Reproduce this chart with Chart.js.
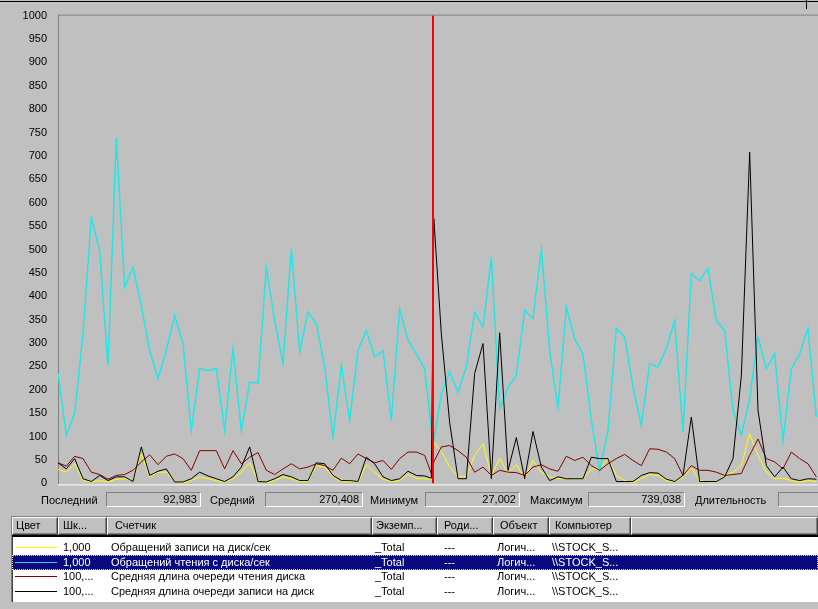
<!DOCTYPE html>
<html>
<head>
  <meta charset="utf-8">
  <title>Системный монитор</title>
  <script src="https://cdn.jsdelivr.net/npm/chart.js@4.4.0/dist/chart.umd.min.js"></script>
  <style>
    body { margin: 0; width: 818px; height: 609px; overflow: hidden; position: relative;
           background: #c0c0c0; color: #000; font-family: "Liberation Sans", Arial, sans-serif; font-size: 11px; }
    #perfChart { position: absolute; left: 0; top: -2px; }
    #topline { position: absolute; left: 0; top: 1px; width: 818px; height: 1px; background: #000; }
    #tick { position: absolute; left: 806px; top: 0; width: 1px; height: 9px; background: #000; }
    .lbl { position: absolute; top: 493px; line-height: 14px; white-space: nowrap; }
    .box { position: absolute; top: 492px; height: 15px; box-sizing: border-box; line-height: 13px; background: #c0c0c0;
           border-top: 1px solid #808080; border-left: 1px solid #808080;
           border-bottom: 1px solid #fff; border-right: 1px solid #fff; text-align: right; padding-right: 3px; }
    #list { position: absolute; left: 11px; top: 516px; width: 807px; height: 86px; background: #fff;
            border-left: 1px solid #808080; border-top: 1px solid #808080; box-sizing: border-box; }
    #list:before { content: ""; position: absolute; left: 0; top: 0; width: 1px; height: 100%; background: #404040; }
    .hd { position: absolute; top: 517px; height: 18px; box-sizing: border-box; background: #c0c0c0; line-height: 15px;
          border-top: 1px solid #fff; border-left: 1px solid #fff; border-right: 1px solid #404040; border-bottom: 1px solid #404040;
          box-shadow: inset -1px -1px #808080; white-space: nowrap; overflow: hidden; }
    #hdline { position: absolute; left: 12px; top: 535px; width: 806px; height: 2px; background: #000; }
    .row { position: absolute; left: 12px; width: 806px; height: 15px; }
    .sel { background: #0a0a80; color: #fff; outline: 1px dotted #e8e880; outline-offset: -1px; }
    .cell { position: absolute; top: 0; line-height: 15px; white-space: nowrap; }
    .sw { position: absolute; left: 3px; top: 7px; width: 42px; height: 1px; }
  </style>
</head>
<body>
  <canvas id="perfChart" width="818" height="503"></canvas>
  <div id="topline"></div>
  <div id="tick"></div>

  <div class="lbl" style="left:41px">Последний</div>
  <div class="box" style="left:106px; width:95px">92,983</div>
  <div class="lbl" style="left:210px">Средний</div>
  <div class="box" style="left:265px; width:98px">270,408</div>
  <div class="lbl" style="left:370px">Минимум</div>
  <div class="box" style="left:425px; width:95px">27,002</div>
  <div class="lbl" style="left:530px">Максимум</div>
  <div class="box" style="left:588px; width:97px">739,038</div>
  <div class="lbl" style="left:695px">Длительность</div>
  <div class="box" style="left:778px; width:45px"></div>

  <div id="list"></div>
  <div class="hd" style="left:12px; width:46px; padding-left:3px">Цвет</div>
  <div class="hd" style="left:58px; width:49px; padding-left:4px">Шк...</div>
  <div class="hd" style="left:107px; width:265px; padding-left:7px">Счетчик</div>
  <div class="hd" style="left:372px; width:65px; padding-left:3px">Экземп...</div>
  <div class="hd" style="left:437px; width:56px; padding-left:6px">Роди...</div>
  <div class="hd" style="left:493px; width:56px; padding-left:6px">Объект</div>
  <div class="hd" style="left:549px; width:82px; padding-left:5px">Компьютер</div>
  <div class="hd" style="left:631px; width:187px"></div>
  <div id="hdline"></div>
  <div id="rows"></div>

  <script>
    // sample positions (the red bar sits between 44.8 and 45.1)
    const sampleT = [0, 1, 2, 3, 4, 5, 6, 7, 8, 9, 10, 11, 12, 13, 14, 15, 16, 17, 18, 19,
      20, 21, 22, 23, 24, 25, 26, 27, 28, 29, 30, 31, 32, 33, 34, 35, 36, 37, 38, 39,
      40, 41, 42, 43, 44, 44.8, 45.1, 46, 47, 48, 49, 50, 51, 52, 53, 54, 55, 56, 57, 58, 59,
      60, 61, 62, 63, 64, 65, 66, 67, 68, 69, 70, 71, 72, 73, 74, 75, 76, 77, 78, 79,
      80, 81, 82, 83, 84, 85, 86, 87, 88, 89, 90, 91];
    const markerT = 45;

    // Обращений записи на диск/сек (yellow)
    const writeOps = [30, 24, 42, 6, 3, 6, 3, 9, 10, 6, 63, 14, 24, 24, 3, 1, 6, 14, 10, 6,
      3, 10, 24, 44, 6, 1, 6, 14, 10, 4, 4, 38, 35, 14, 4, 4, 3, 40, 24, 9,
      4, 6, 19, 11, 10, 9, 88, 68, 36, 14, 14, 60, 85, 17, 53, 21, 40, 11, 49, 24, 14,
      10, 11, 10, 10, 31, 31, 53, 17, 6, 1, 11, 19, 17, 6, 3, 14, 33, 6, 3, 3,
      17, 24, 38, 106, 60, 24, 10, 11, 6, 3, 6, 4];
    // Обращений чтения с диска/сек (cyan)
    const readOps = [235, 103, 150, 320, 568, 498, 252, 739, 420, 462, 380, 284, 224, 284, 359, 300, 113, 246, 241, 246,
      113, 288, 113, 216, 214, 462, 348, 256, 501, 281, 366, 341, 249, 99, 252, 135, 284, 327, 270, 284,
      135, 373, 306, 277, 245, 120, 93, 190, 238, 195, 249, 366, 334, 484, 160, 205, 231, 370, 352, 501, 284,
      163, 377, 309, 277, 135, 27, 113, 331, 313, 206, 124, 256, 249, 288, 348, 110, 448, 434, 459, 348,
      327, 156, 103, 180, 313, 245, 277, 92, 245, 277, 331, 142];
    // Средняя длина очереди чтения диска (maroon)
    const readQueue = [44, 37, 58, 53, 24, 19, 9, 17, 19, 28, 46, 61, 40, 58, 63, 53, 28, 70, 70, 70,
      31, 70, 42, 56, 66, 28, 19, 31, 42, 31, 35, 42, 38, 28, 54, 42, 63, 53, 44, 49,
      30, 53, 67, 67, 60, 21, 46, 78, 81, 70, 56, 24, 35, 17, 28, 24, 23, 17, 35, 40, 31,
      26, 58, 49, 56, 38, 28, 42, 53, 62, 49, 38, 74, 73, 67, 53, 17, 38, 28, 28, 24,
      17, 19, 21, 60, 95, 53, 46, 31, 67, 53, 42, 14];
    // Средняя длина очереди записи на диск (black)
    const writeQueue = [44, 31, 53, 10, 4, 17, 6, 14, 14, 4, 78, 17, 26, 31, 3, 3, 10, 24, 16, 10,
      4, 14, 35, 78, 4, 3, 10, 19, 14, 6, 6, 44, 42, 17, 6, 6, 4, 56, 42, 14,
      6, 10, 26, 17, 16, 11, 566, 320, 130, 10, 10, 235, 299, 10, 322, 28, 98, 10, 111, 35, 6,
      14, 10, 10, 10, 56, 53, 53, 4, 4, 4, 17, 23, 22, 9, 4, 17, 142, 4, 4, 4,
      14, 53, 230, 708, 156, 38, 14, 35, 10, 6, 10, 9];

    const counterNames = ['Обращений записи на диск/сек', 'Обращений чтения с диска/сек',
      'Средняя длина очереди чтения диска', 'Средняя длина очереди записи на диск'];
    const counterScales = ['1,000', '1,000', '100,...', '100,...'];
    const counterColors = ['#ffff00', '#22e6e6', '#800000', '#000000'];
    const selectedRow = 1;

    function toPoints(values) {
      return values.map((v, i) => ({ x: sampleT[i], y: v }));
    }

    // legend list under the graph
    const rowsDiv = document.getElementById('rows');
    counterNames.forEach((name, i) => {
      const row = document.createElement('div');
      row.className = 'row' + (i === selectedRow ? ' sel' : '');
      row.style.top = (540 + i * 14.7) + 'px';
      const lineColor = i === selectedRow ? '#40c8f0' : counterColors[i];
      row.innerHTML =
        '<div class="sw" style="background:' + lineColor + '"></div>' +
        '<div class="cell" style="left:51px">' + counterScales[i] + '</div>' +
        '<div class="cell" style="left:99px">' + name + '</div>' +
        '<div class="cell" style="left:363px">_Total</div>' +
        '<div class="cell" style="left:432px">---</div>' +
        '<div class="cell" style="left:485px">Логич...</div>' +
        '<div class="cell" style="left:540px">\\\\STOCK_S...</div>';
      rowsDiv.appendChild(row);
    });

    const framePlugin = {
      id: 'frame',
      beforeDatasetsDraw(chart) {
        const { ctx, chartArea: a } = chart;
        ctx.save();
        ctx.fillStyle = '#808080';
        ctx.fillRect(a.left, a.top - 1, a.right - a.left, 1);
        ctx.fillStyle = '#ffffff';
        ctx.fillRect(a.left, a.bottom + 1, a.right - a.left, 1);
        ctx.restore();
      }
    };

    const series = [writeOps, readOps, readQueue, writeQueue];
    const datasets = series.map((values, i) => ({
      label: counterNames[i],
      data: toPoints(values),
      borderColor: counterColors[i],
      borderWidth: i === 1 ? 1.5 : 1,
      pointRadius: 0,
      tension: 0,
      fill: false,
      order: 5 - i
    }));
    datasets.push({
      label: 'marker',
      data: [{ x: markerT, y: 0 }, { x: markerT, y: 1000 }],
      borderColor: '#ff0000',
      borderWidth: 2,
      pointRadius: 0,
      order: 0
    });

    new Chart(document.getElementById('perfChart'), {
      type: 'line',
      data: { datasets: datasets },
      options: {
        responsive: false,
        animation: false,
        devicePixelRatio: 1,
        layout: { padding: { top: 13, bottom: 6, left: 0, right: 0 } },
        plugins: { legend: { display: false }, tooltip: { enabled: false } },
        scales: {
          x: { type: 'linear', min: 0, max: 91.2, display: false },
          y: {
            min: 0,
            max: 1000,
            ticks: { stepSize: 50, color: '#000', padding: 11,
                     font: { family: 'Liberation Sans', size: 11 },
                     callback: v => String(v) },
            grid: { display: false, drawTicks: false },
            border: { display: true, color: '#808080', width: 1 },
            afterFit: s => { s.width = 58; }
          }
        }
      },
      plugins: [framePlugin]
    });
  </script>
</body>
</html>
